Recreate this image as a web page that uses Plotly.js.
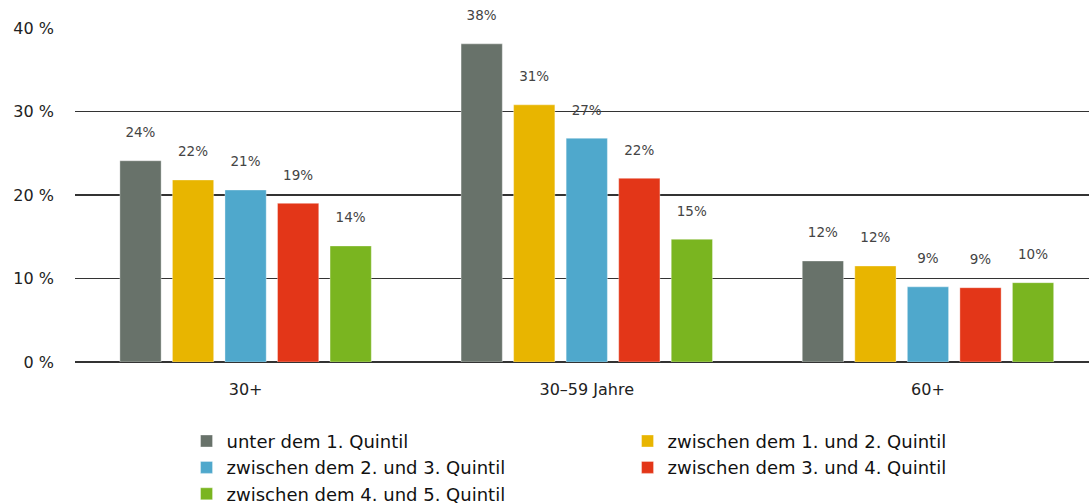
<!DOCTYPE html>
<html>
<head>
<meta charset="utf-8">
<script src="https://cdn.plot.ly/plotly-3.0.1.min.js"></script>
<style>
html,body{margin:0;padding:0;background:#fff;}
#chart{width:1089px;height:503px;}
</style>
</head>
<body>
<div id="chart"></div>
<script>
const categories = ["30+", "30–59 Jahre", "60+"];
const seriesNames = [
  "unter dem 1. Quintil",
  "zwischen dem 1. und 2. Quintil",
  "zwischen dem 2. und 3. Quintil",
  "zwischen dem 3. und 4. Quintil",
  "zwischen dem 4. und 5. Quintil"
];
const q1 = [24.1, 38.1, 12.1];
const q12 = [21.8, 30.8, 11.5];
const q23 = [20.6, 26.8, 9.0];
const q34 = [19.0, 22.0, 8.9];
const q45 = [13.9, 14.7, 9.5];
const colors = ["#68726a", "#e8b500", "#4fa8cc", "#e33618", "#7ab520"];
const yTickVals = [0, 10, 20, 30, 40];
const yTickText = ["0 %", "10 %", "20 %", "30 %", "40 %"];

const allSeries = [q1, q12, q23, q34, q45];
const traces = allSeries.map((vals, i) => ({
  type: "bar",
  name: seriesNames[i],
  x: categories,
  y: vals,
  marker: {color: colors[i], line: {color: "rgba(255,255,255,0.35)", width: 1}},
  texttemplate: "%{y:.0f}%<br>&nbsp;",
  textposition: "outside",
  cliponaxis: false,
  textfont: {family: "DejaVu Sans", size: 13.5, color: "#444"},
  hoverinfo: "skip"
}));

const layout = {
  width: 1089,
  height: 503,
  margin: {l: 75, r: 0, t: 28, b: 141, autoexpand: false},
  paper_bgcolor: "#fff",
  plot_bgcolor: "#fff",
  barmode: "group",
  bargap: 0.23,
  bargroupgap: 0.215,
  showlegend: true,
  font: {family: "DejaVu Sans", color: "#222"},
  xaxis: {
    type: "category",
    range: [-0.5, 2.472],
    showgrid: false,
    showline: false,
    zeroline: false,
    ticks: "",
    tickfont: {family: "DejaVu Sans", size: 16, color: "#222"},
    ticklabelstandoff: 16
  },
  yaxis: {
    range: [0, 40],
    tickvals: yTickVals,
    ticktext: yTickText,
    showgrid: true,
    gridcolor: "#333",
    gridwidth: 1.5,
    zeroline: true,
    zerolinecolor: "#333",
    zerolinewidth: 1.5,
    showline: false,
    ticks: "",
    tickfont: {family: "DejaVu Sans", size: 16, color: "#222"},
    ticklabelstandoff: 20
  },
  legend: {
    orientation: "h",
    x: 0.11,
    y: -0.182,
    xanchor: "left",
    yanchor: "top",
    entrywidth: 396,
    entrywidthmode: "pixels",
    font: {family: "DejaVu Sans", size: 18, color: "#111"},
    traceorder: "normal",
    itemclick: false
  }
};

Plotly.newPlot("chart", traces, layout, {displayModeBar: false, staticPlot: true});
</script>
</body>
</html>
